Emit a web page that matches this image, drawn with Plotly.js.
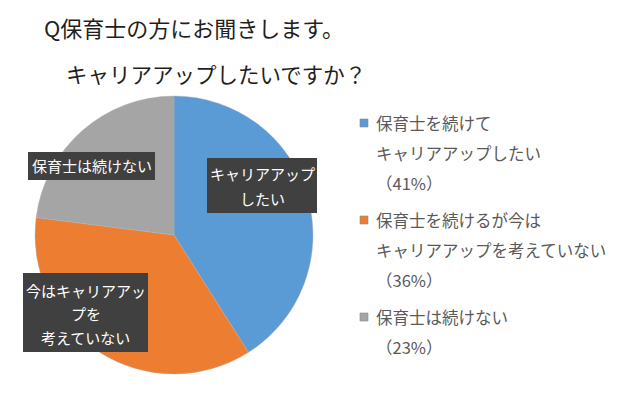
<!DOCTYPE html>
<html>
<head>
<meta charset="utf-8">
<script src="https://cdn.plot.ly/plotly-3.0.1.min.js"></script>
<style>html,body{margin:0;padding:0;background:#fff;}#chart{width:640px;height:396px;}</style>
</head>
<body>
<div id="chart"></div>
<script>
// ---- data ----
const titleLines = ['Q保育士の方にお聞きします。', 'キャリアアップしたいですか？'];
const categories = ['保育士を続けてキャリアアップしたい', '保育士を続けるが今はキャリアアップを考えていない', '保育士は続けない'];
const values = [41, 36, 23];
const legendLines = [
  ['保育士を続けて', 'キャリアアップしたい'],
  ['保育士を続けるが今は', 'キャリアアップを考えていない'],
  ['保育士は続けない']
];
const sliceLabels = [
  ['キャリアアップ', 'したい'],
  ['今はキャリアアッ', 'プを', '考えていない'],
  ['保育士は続けない']
];
const colors = ['#5B9BD5', '#ED7D31', '#A5A5A5'];

// ---- layout helpers (pixel -> paper) ----
const W = 640, H = 396;
const px = x => x / W;
const py = y => 1 - y / H;
const FONT = '"Noto Sans CJK JP", "Noto Sans", sans-serif';

const cx = 174, cy = 235, r = 139;

const annotations = [];
const shapes = [];

// second title line
annotations.push({
  text: titleLines[1], xref: 'paper', yref: 'paper', x: px(64), y: py(73),
  xanchor: 'left', yanchor: 'middle', showarrow: false,
  font: {family: FONT, size: 21.5, color: '#1f1f1f'}
});

// slice label boxes
const boxes = [
  {x0: 207, x1: 317, y0: 158, y1: 213, lineY: [173, 199]},
  {x0: 23, x1: 148, y0: 273, y1: 352, lineY: [290, 313, 337]},
  {x0: 28, x1: 155, y0: 152, y1: 180, lineY: [166]}
];
boxes.forEach((b, i) => {
  shapes.push({type: 'rect', xref: 'paper', yref: 'paper',
    x0: px(b.x0), x1: px(b.x1), y0: py(b.y0), y1: py(b.y1),
    fillcolor: '#404040', line: {width: 0}});
  sliceLabels[i].forEach((t, j) => {
    annotations.push({text: t, xref: 'paper', yref: 'paper',
      x: px((b.x0 + b.x1) / 2), y: py(b.lineY[j]), xanchor: 'center', yanchor: 'middle',
      showarrow: false, font: {family: FONT, size: 15, color: '#ffffff'}});
  });
});

// legend (custom spacing)
const legendStart = [123, 220, 317];
const lineGap = 30;
categories.forEach((c, i) => {
  const y0 = legendStart[i];
  shapes.push({type: 'rect', xref: 'paper', yref: 'paper',
    x0: px(360), x1: px(368), y0: py(y0 - 4), y1: py(y0 + 4),
    fillcolor: colors[i], line: {width: 0.6, color: '#8a8a8a'}});
  const lines = legendLines[i].concat(['（' + values[i] + '%）']);
  lines.forEach((t, j) => {
    annotations.push({text: t, xref: 'paper', yref: 'paper',
      x: px(374), y: py(y0 + j * lineGap), xanchor: 'left', yanchor: 'middle',
      showarrow: false, font: {family: FONT, size: 16.5, color: '#595959'}});
  });
});

const data = [{
  type: 'pie',
  labels: categories,
  values: values,
  sort: false,
  direction: 'clockwise',
  rotation: 0,
  textinfo: 'none',
  hoverinfo: 'label+percent',
  marker: {colors: colors, line: {width: 0.4, color: '#b0b0b0'}},
  domain: {x: [px(cx - r), px(cx + r)], y: [py(cy + r), py(cy - r)]},
  showlegend: false
}];

const layout = {
  width: W, height: H,
  margin: {l: 0, r: 0, t: 0, b: 0},
  paper_bgcolor: '#ffffff',
  plot_bgcolor: '#ffffff',
  showlegend: false,
  title: {
    text: titleLines[0], x: px(44), xanchor: 'left', xref: 'paper',
    y: py(29), yanchor: 'middle', yref: 'paper',
    font: {family: FONT, size: 22, color: '#1f1f1f'}
  },
  annotations: annotations,
  shapes: shapes
};

Plotly.newPlot('chart', data, layout, {displayModeBar: false, staticPlot: true});
</script>
</body>
</html>
